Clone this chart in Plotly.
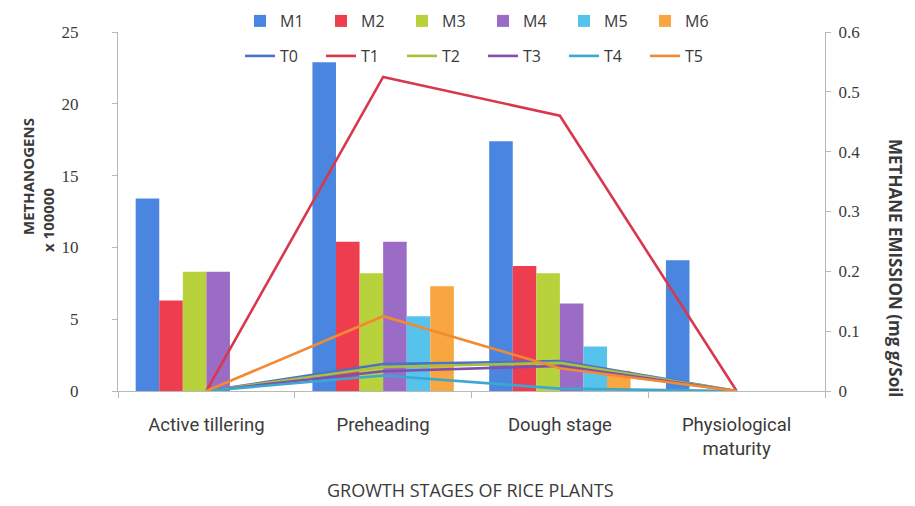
import plotly.graph_objects as go

stages = ["Active tillering", "Preheading", "Dough stage", "Physiological<br>maturity"]

# Methanogens (x 100000) - bars, left axis
M1 = [13.4, 22.9, 17.4, 9.1]
M2 = [6.3, 10.4, 8.7, None]
M3 = [8.3, 8.2, 8.2, None]
M4 = [8.3, 10.4, 6.1, None]
M5 = [None, 5.2, 3.1, None]
M6 = [None, 7.3, 1.4, None]

# Methane emission - lines, right axis
T0 = [0, 0.045, 0.050, 0]
T1 = [0, 0.525, 0.460, 0]
T2 = [0, 0.040, 0.047, 0]
T3 = [0, 0.033, 0.042, 0]
T4 = [0, 0.026, 0.004, 0]
T5 = [0, 0.125, 0.038, 0]

bar_series = [("M1", M1), ("M2", M2), ("M3", M3), ("M4", M4), ("M5", M5), ("M6", M6)]
line_series = [("T0", T0), ("T1", T1), ("T2", T2), ("T3", T3), ("T4", T4), ("T5", T5)]

bar_colors = ["#4a86e0", "#ee3d4f", "#b7d23a", "#9a6cc6", "#55c3ec", "#f8a63f"]
line_colors = ["#4a72c8", "#d9384c", "#a8c03c", "#8050ac", "#3aa8d2", "#f28a34"]

TXT = "#3a3a3a"
# page body has an 8px margin, so the figure is drawn 8px smaller and everything shifted by -8
OFF = 8
W, H = 915 - OFF, 506 - OFF
L, R, T, B = 118 - OFF, 915 - 825, 32 - OFF, 506 - 391
PH = H - T - B  # plot height in px

fig = go.Figure()

for (name, vals), c in zip(bar_series, bar_colors):
    fig.add_trace(go.Bar(x=stages, y=vals, name=name, marker=dict(color=c, line=dict(width=0)),
                         legend="legend"))

for (name, vals), c in zip(line_series, line_colors):
    fig.add_trace(go.Scatter(x=stages, y=vals, name=name, mode="lines", yaxis="y2",
                             line=dict(color=c, width=2.6), legend="legend2"))

def legend_y(top_px):
    # top_px: desired legend top in figure pixels
    return 1 + (T - top_px) / PH

fig.update_layout(
    width=W, height=H,
    margin=dict(l=L, r=R, t=T, b=B, autoexpand=False),
    paper_bgcolor="white", plot_bgcolor="white",
    barmode="group", bargap=0.2, bargroupgap=0,
    font=dict(family="Open Sans", color=TXT),
    xaxis=dict(type="category", showgrid=False, showline=True, linecolor="#b8b8b8", linewidth=1,
               ticks="outside", ticklen=6, tickcolor="#b8b8b8", tickson="boundaries",
               tickfont=dict(family="Roboto", size=18.5, color=TXT), ticklabelstandoff=17),
    yaxis=dict(range=[0, 25], dtick=5, showgrid=False, zeroline=False, showline=True,
               linecolor="#b8b8b8", ticks="outside", ticklen=5, tickcolor="#b8b8b8",
               tickfont=dict(family="Liberation Serif", size=17, color=TXT), ticklabelstandoff=30),
    yaxis2=dict(range=[0, 0.6], dtick=0.1, overlaying="y", side="right", anchor="x",
                showgrid=False, zeroline=False, showline=True, linecolor="#b8b8b8",
                ticks="outside", ticklen=5, tickcolor="#b8b8b8",
                tickfont=dict(family="Liberation Serif", size=17, color=TXT), ticklabelstandoff=4),
    legend=dict(orientation="h", xref="container", yref="paper", x=232 / W, y=legend_y(-4),
                xanchor="left", yanchor="top", font=dict(family="Open Sans", size=16, color=TXT),
                entrywidth=36, entrywidthmode="pixels", bgcolor="rgba(0,0,0,0)"),
    legend2=dict(orientation="h", xref="container", yref="paper", x=232 / W, y=legend_y(31),
                 xanchor="left", yanchor="top", font=dict(family="Open Sans", size=16, color=TXT),
                 entrywidth=36, entrywidthmode="pixels", bgcolor="rgba(0,0,0,0)"),
    showlegend=True,
)

annos = [
    dict(text="<b>METHANOGENS</b>", x=28, y=177, textangle=-90, size=15),
    dict(text="<b>x 100000</b>", x=48, y=220, textangle=-90, size=15),
    dict(text="<b>METHANE EMISSION (mg g/Soil</b>", x=896, y=268, textangle=90, size=17),
    dict(text="GROWTH STAGES OF RICE PLANTS", x=470, y=490, textangle=0, size=18),
]
for a in annos:
    fx, fy = a["x"] - OFF, a["y"] - OFF
    fig.add_annotation(text=a["text"], xref="paper", yref="paper",
                       x=(fx - L) / (W - L - R), y=(H - B - fy) / PH,
                       xanchor="center", yanchor="middle", showarrow=False, textangle=a["textangle"],
                       font=dict(family="Open Sans", size=a["size"], color=TXT))

fig.write_html("out.html")
